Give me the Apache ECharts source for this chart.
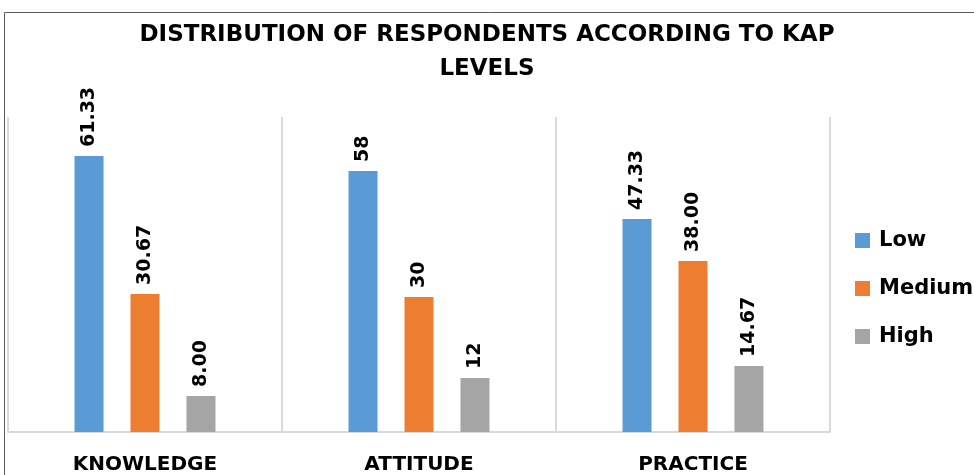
<!DOCTYPE html>
<html>
<head>
<meta charset="utf-8">
<script src="https://cdn.jsdelivr.net/npm/echarts@6/dist/echarts.min.js"></script>
<style>
  html, body { margin: 0; padding: 0; background: #fff; }
  #main { width: 974px; height: 475px; }
</style>
</head>
<body>
<div id="main"></div>
<script>
// 类别和数值
const categories = ['KNOWLEDGE', 'ATTITUDE', 'PRACTICE']
const lowValues = [61.33, 58, 47.33]
const mediumValues = [30.67, 30, 38.00]
const highValues = [8.00, 12, 14.67]
// 标签按原图的写法显示
const lowLabels = ['61.33', '58', '47.33']
const mediumLabels = ['30.67', '30', '38.00']
const highLabels = ['8.00', '12', '14.67']

const chart = echarts.init(document.getElementById('main'))

const labelStyle = labels => ({
  show: true,
  position: 'top',
  rotate: 90,
  align: 'left',
  verticalAlign: 'middle',
  distance: 9,
  color: '#000',
  fontFamily: 'DejaVu Sans',
  fontWeight: 'bold',
  fontSize: 19,
  formatter: p => labels[p.dataIndex]
})

const makeSeries = (name, data, labels, color) => ({
  name: name,
  type: 'bar',
  data: data,
  barWidth: 29,
  barGap: '93%',
  itemStyle: { color: color },
  label: labelStyle(labels)
})

const option = {
  animation: false,
  title: {
    text: 'DISTRIBUTION OF RESPONDENTS ACCORDING TO KAP\nLEVELS',
    left: 'center',
    top: 13,
    textStyle: {
      fontFamily: 'DejaVu Sans',
      fontWeight: 'bold',
      fontSize: 23,
      lineHeight: 34,
      color: '#000'
    }
  },
  legend: {
    orient: 'vertical',
    left: 850,
    top: 225,
    itemWidth: 15,
    itemHeight: 15,
    itemGap: 27,
    icon: 'rect',
    textStyle: {
      fontFamily: 'DejaVu Sans',
      fontWeight: 'bold',
      fontSize: 21,
      color: '#000',
      padding: [0, 0, 0, 4]
    }
  },
  grid: { left: 8, right: 144, top: 117, bottom: 43, outerBoundsMode: 'none' },
  xAxis: {
    type: 'category',
    data: categories,
    axisLine: { lineStyle: { color: '#d9d9d9', width: 2 } },
    axisTick: { show: false },
    splitLine: { show: true, lineStyle: { color: '#d9d9d9', width: 2 } },
    axisLabel: {
      margin: 23,
      color: '#000',
      fontFamily: 'DejaVu Sans',
      fontWeight: 'bold',
      fontSize: 20
    }
  },
  yAxis: {
    type: 'value',
    min: 0,
    max: 70,
    show: false
  },
  graphic: [{
    type: 'rect',
    shape: { x: 4.5, y: 12.5, width: 1000, height: 500 },
    style: { fill: 'none', stroke: '#595959', lineWidth: 1 },
    silent: true
  }],
  series: [
    makeSeries('Low', lowValues, lowLabels, '#5b9bd5'),
    makeSeries('Medium', mediumValues, mediumLabels, '#ed7d31'),
    makeSeries('High', highValues, highLabels, '#a5a5a5')
  ]
}

chart.setOption(option)
</script>
</body>
</html>
